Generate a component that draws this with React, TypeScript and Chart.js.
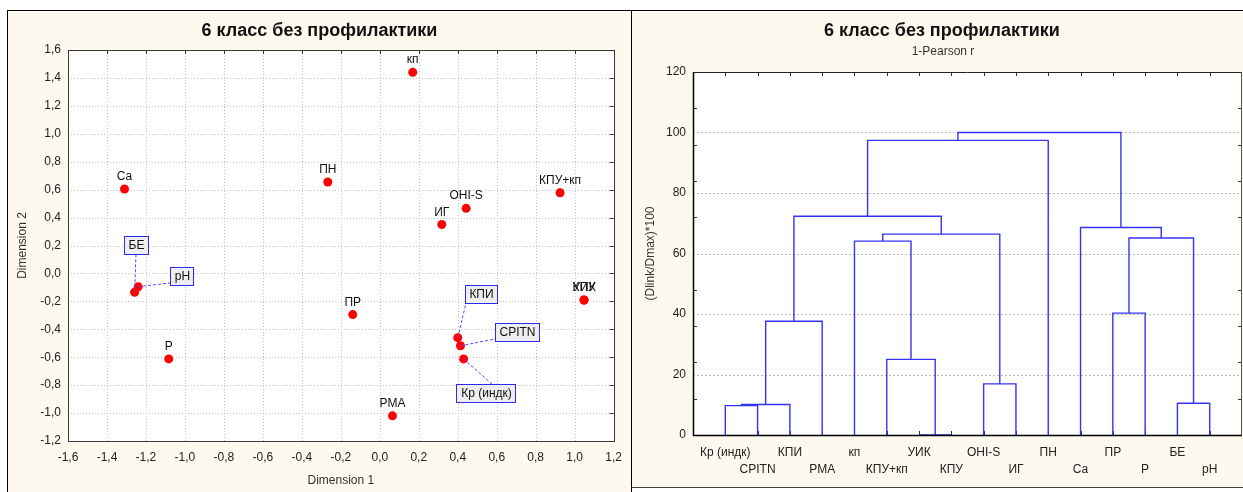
import React, { useEffect, useRef } from 'react';
import { Chart, registerables } from 'chart.js';

Chart.register(...registerables);

const FONT = '"Liberation Sans", Arial, sans-serif';
const CREAM = '#fdf9ee';

// ---------- Left chart: MDS scatter ----------
const chartTitle = '6 класс без профилактики';
const pointLabels = ['кп', 'Ca', 'ПН', 'OHI-S', 'ИГ', 'КПУ+кп', 'УИК', 'КПУ', 'БЕ', 'pH', 'P', 'ПР', 'PMA', 'КПИ', 'CPITN', 'Кр (индк)'];
const dim1 = [0.169, -1.31, -0.267, 0.443, 0.318, 0.925, 1.048, 1.048, -1.258, -1.24, -1.083, -0.139, 0.065, 0.4, 0.414, 0.43];
const dim2 = [1.44, 0.605, 0.655, 0.466, 0.35, 0.578, -0.19, -0.19, -0.135, -0.095, -0.612, -0.295, -1.02, -0.46, -0.518, -0.612];
const dim1Ticks = [-1.6, -1.4, -1.2, -1.0, -0.8, -0.6, -0.4, -0.2, 0, 0.2, 0.4, 0.6, 0.8, 1.0, 1.2];
const dim2Ticks = [-1.2, -1.0, -0.8, -0.6, -0.4, -0.2, 0, 0.2, 0.4, 0.6, 0.8, 1.0, 1.2, 1.4, 1.6];

// callout (boxed) labels: pixel offset of box centre from its point, and where the leader meets the box
const callouts: Record<string, { dx: number; dy: number; anchor: string }> = {
  'БЕ': { dx: 1, dy: -47, anchor: 'bottom' },
  'pH': { dx: 44, dy: -11, anchor: 'leftBottom' },
  'КПИ': { dx: 23, dy: -44, anchor: 'bottomLeft' },
  'CPITN': { dx: 57, dy: -14, anchor: 'leftBottom' },
  'Кр (индк)': { dx: 22, dy: 34, anchor: 'top' },
};

// ---------- Right chart: dendrogram ----------
const dendroSubtitle = '1-Pearson r';
const leafLabels = ['Кр (индк)', 'CPITN', 'КПИ', 'PMA', 'кп', 'КПУ+кп', 'УИК', 'КПУ', 'OHI-S', 'ИГ', 'ПН', 'Ca', 'ПР', 'P', 'БЕ', 'pH'];
// node ids: leaves 0..15, merges 16..
const mergeLeft = [0, 6, 14, 16, 8, 5, 19, 12, 4, 24, 23, 22, 11, 27, 29];
const mergeRight = [1, 7, 15, 2, 9, 17, 3, 13, 21, 20, 18, 25, 26, 10, 28];
const mergeHeight = [9.7, 0, 10.5, 10.1, 16.9, 25.0, 37.6, 40.3, 64.1, 66.4, 65.1, 72.3, 68.6, 97.4, 100];
const heightTicks = [0, 20, 40, 60, 80, 100, 120];
const heightMinorTicks = [12, 24, 36, 48, 72, 84, 96, 108];

const fmt = (v: number) => {
  const r = Math.round(v * 10) / 10;
  return (Math.abs(r) < 1e-9 ? 0 : r).toFixed(1).replace('.', ',');
};

const scatterDecor = {
  id: 'scatterDecor',
  beforeDraw(chart: any) {
    const { ctx, chartArea: a, scales } = chart;
    ctx.save();
    ctx.fillStyle = '#ffffff';
    ctx.fillRect(a.left, a.top, a.right - a.left, a.bottom - a.top);
    ctx.strokeStyle = '#c2c2c2';
    ctx.lineWidth = 1;
    ctx.setLineDash([1, 2]);
    dim1Ticks.forEach((v) => {
      const px = Math.round(scales.x.getPixelForValue(v)) + 0.5;
      ctx.beginPath(); ctx.moveTo(px, a.top); ctx.lineTo(px, a.bottom); ctx.stroke();
    });
    dim2Ticks.forEach((v) => {
      const py = Math.round(scales.y.getPixelForValue(v)) + 0.5;
      ctx.beginPath(); ctx.moveTo(a.left, py); ctx.lineTo(a.right, py); ctx.stroke();
    });
    ctx.setLineDash([]);
    // border
    ctx.strokeStyle = '#3a3a3a';
    ctx.strokeRect(Math.round(a.left) + 0.5, Math.round(a.top) + 0.5, Math.round(a.right - a.left), Math.round(a.bottom - a.top));
    // inward ticks on top and right
    ctx.strokeStyle = '#333';
    dim1Ticks.forEach((v) => {
      const px = Math.round(scales.x.getPixelForValue(v)) + 0.5;
      ctx.beginPath(); ctx.moveTo(px, a.top); ctx.lineTo(px, a.top + 4); ctx.stroke();
    });
    dim2Ticks.forEach((v) => {
      const py = Math.round(scales.y.getPixelForValue(v)) + 0.5;
      ctx.beginPath(); ctx.moveTo(a.right, py); ctx.lineTo(a.right - 4, py); ctx.stroke();
    });
    // title
    ctx.fillStyle = '#111';
    ctx.font = `bold 18px ${FONT}`;
    ctx.textAlign = 'center';
    ctx.textBaseline = 'middle';
    ctx.fillText(chartTitle, chart.width / 2, 20);
    ctx.restore();
  },
  afterDatasetsDraw(chart: any) {
    const { ctx, scales } = chart;
    ctx.save();
    ctx.font = `12px ${FONT}`;
    ctx.textAlign = 'center';
    pointLabels.forEach((lab, i) => {
      const px = scales.x.getPixelForValue(dim1[i]);
      const py = scales.y.getPixelForValue(dim2[i]);
      const c = callouts[lab];
      if (!c) {
        ctx.fillStyle = '#111';
        ctx.textBaseline = 'alphabetic';
        ctx.fillText(lab, px, py - 9);
        return;
      }
      const w = Math.round(ctx.measureText(lab).width + 8);
      const h = 18;
      const cx = Math.round(px + c.dx);
      const cy = Math.round(py + c.dy);
      const bl = cx - Math.round(w / 2);
      const bt = cy - h / 2;
      let ax = cx, ay = bt + h;
      if (c.anchor === 'top') { ax = cx + 6; ay = bt; }
      if (c.anchor === 'leftBottom') { ax = bl; ay = bt + h - 2; }
      if (c.anchor === 'bottomLeft') { ax = bl + 1; ay = bt + h; }
      ctx.strokeStyle = '#4a4aff';
      ctx.lineWidth = 1;
      ctx.setLineDash([3, 2]);
      ctx.beginPath(); ctx.moveTo(px, py); ctx.lineTo(ax, ay); ctx.stroke();
      ctx.setLineDash([]);
      ctx.fillStyle = '#eeeeee';
      ctx.fillRect(bl + 0.5, bt + 0.5, w, h);
      ctx.strokeStyle = '#2a2af0';
      ctx.strokeRect(bl + 0.5, bt + 0.5, w, h);
      ctx.fillStyle = '#111';
      ctx.textBaseline = 'middle';
      ctx.fillText(lab, cx + 0.5, cy + 1);
    });
    ctx.restore();
  },
};

function ScatterChart() {
  const ref = useRef<HTMLCanvasElement>(null);
  useEffect(() => {
    const chart = new Chart(ref.current as HTMLCanvasElement, {
      type: 'scatter',
      data: {
        datasets: [
          {
            data: dim1.map((x, i) => ({ x, y: dim2[i] })),
            pointRadius: 4.5,
            pointHoverRadius: 4.5,
            backgroundColor: '#ff0000',
            borderColor: '#ff0000',
            borderWidth: 0,
          },
        ],
      },
      options: {
        animation: false,
        responsive: false,
        events: [],
        layout: { padding: { top: 39, right: 15, left: 0, bottom: 0 } },
        plugins: { legend: { display: false }, tooltip: { enabled: false } },
        scales: {
          x: {
            type: 'linear',
            min: -1.6,
            max: 1.2,
            afterBuildTicks: (s: any) => { s.ticks = dim1Ticks.map((v) => ({ value: v })); },
            afterFit: (s: any) => { s.height = 51; },
            grid: { display: false, drawTicks: false },
            border: { display: false },
            ticks: { padding: 9, color: '#222', font: { family: FONT, size: 12 }, autoSkip: false, maxRotation: 0, callback: (v: any) => fmt(Number(v)) },
            title: { display: true, text: 'Dimension 1', color: '#333', font: { family: FONT, size: 12 }, padding: { top: 0, bottom: 4 } },
          },
          y: {
            type: 'linear',
            min: -1.2,
            max: 1.6,
            afterBuildTicks: (s: any) => { s.ticks = dim2Ticks.map((v) => ({ value: v })); },
            afterFit: (s: any) => { s.width = 60; },
            grid: { display: false, drawTicks: false },
            border: { display: false },
            ticks: { padding: 7, color: '#222', font: { family: FONT, size: 12 }, autoSkip: false, callback: (v: any) => fmt(Number(v)) },
            title: { display: true, text: 'Dimension 2', color: '#333', font: { family: FONT, size: 12 }, padding: { top: 7, bottom: 0 } },
          },
        },
      } as any,
      plugins: [scatterDecor],
    });
    return () => chart.destroy();
  }, []);
  return <canvas ref={ref} width={623} height={481} style={{ position: 'absolute', left: 0, top: 0, width: 623, height: 481 }} />;
}

// dendrogram geometry derived from merge data
const nLeaves = leafLabels.length;
const nodeX: number[] = leafLabels.map((_, i) => i + 1);
const nodeH: number[] = leafLabels.map(() => 0);
const links = mergeLeft.map((l, k) => {
  const r = mergeRight[k];
  const h = mergeHeight[k];
  nodeX[nLeaves + k] = (nodeX[l] + nodeX[r]) / 2;
  nodeH[nLeaves + k] = h;
  return [
    { x: nodeX[l], y: nodeH[l] },
    { x: nodeX[l], y: h },
    { x: nodeX[r], y: h },
    { x: nodeX[r], y: nodeH[r] },
  ];
});

const dendroDecor = {
  id: 'dendroDecor',
  beforeDraw(chart: any) {
    const { ctx, chartArea: a, scales } = chart;
    ctx.save();
    ctx.fillStyle = '#ffffff';
    ctx.fillRect(a.left, a.top, a.right - a.left, a.bottom - a.top);
    ctx.strokeStyle = '#b8b8b8';
    ctx.lineWidth = 1;
    ctx.setLineDash([2, 2]);
    heightTicks.slice(1, -1).forEach((v) => {
      const py = Math.round(scales.y.getPixelForValue(v)) + 0.5;
      ctx.beginPath(); ctx.moveTo(a.left, py); ctx.lineTo(a.right, py); ctx.stroke();
    });
    ctx.setLineDash([]);
    // ticks
    ctx.strokeStyle = '#333';
    leafLabels.forEach((_, i) => {
      const px = Math.round(scales.x.getPixelForValue(i + 1)) + 0.5;
      ctx.beginPath(); ctx.moveTo(px, a.top); ctx.lineTo(px, a.top + 4); ctx.stroke();
      ctx.beginPath(); ctx.moveTo(px, a.bottom); ctx.lineTo(px, a.bottom - 4); ctx.stroke();
    });
    heightMinorTicks.forEach((v) => {
      const py = Math.round(scales.y.getPixelForValue(v)) + 0.5;
      ctx.beginPath(); ctx.moveTo(a.left, py); ctx.lineTo(a.left + 4, py); ctx.stroke();
      ctx.beginPath(); ctx.moveTo(a.right, py); ctx.lineTo(a.right - 4, py); ctx.stroke();
    });
    // title
    ctx.fillStyle = '#111';
    ctx.font = `bold 18px ${FONT}`;
    ctx.textAlign = 'center';
    ctx.textBaseline = 'middle';
    ctx.fillText(chartTitle, 310, 20);
    ctx.font = `12px ${FONT}`;
    ctx.fillStyle = '#333';
    ctx.fillText(dendroSubtitle, 311, 41);
    ctx.restore();
  },
  afterDatasetsDraw(chart: any) {
    const { ctx, chartArea: a } = chart;
    ctx.save();
    const L = Math.round(a.left), T = Math.round(a.top), R = Math.round(a.right), B = Math.round(a.bottom);
    ctx.strokeStyle = '#222';
    ctx.lineWidth = 1;
    ctx.beginPath(); ctx.moveTo(L, T + 0.5); ctx.lineTo(R, T + 0.5); ctx.stroke();
    ctx.strokeStyle = '#555';
    ctx.beginPath(); ctx.moveTo(R - 0.5, T); ctx.lineTo(R - 0.5, B); ctx.stroke();
    ctx.strokeStyle = '#000';
    ctx.lineWidth = 1.5;
    ctx.beginPath(); ctx.moveTo(L + 0.5, T); ctx.lineTo(L + 0.5, B + 0.5); ctx.lineTo(R, B + 0.5); ctx.stroke();
    ctx.restore();
  },
};

function Dendrogram() {
  const ref = useRef<HTMLCanvasElement>(null);
  useEffect(() => {
    const chart = new Chart(ref.current as HTMLCanvasElement, {
      type: 'scatter',
      data: {
        datasets: links.map((d) => ({
          data: d,
          showLine: true,
          pointRadius: 0,
          pointHoverRadius: 0,
          borderColor: '#3434f6',
          borderWidth: 1.4,
          tension: 0,
          fill: false,
        })),
      },
      options: {
        animation: false,
        responsive: false,
        events: [],
        layout: { padding: { top: 61, right: 1, left: 0, bottom: 0 } },
        plugins: { legend: { display: false }, tooltip: { enabled: false } },
        scales: {
          x: {
            type: 'linear',
            min: 0,
            max: nLeaves + 1,
            afterBuildTicks: (s: any) => { s.ticks = leafLabels.map((_, i) => ({ value: i + 1 })); },
            afterFit: (s: any) => { s.height = 52; },
            grid: { display: false, drawTicks: false },
            border: { display: false },
            ticks: {
              padding: 9,
              color: '#222',
              font: { family: FONT, size: 12, lineHeight: 1.42 },
              autoSkip: false,
              maxRotation: 0,
              minRotation: 0,
              callback: (_v: any, i: number) => (i % 2 === 0 ? leafLabels[i] : ['', leafLabels[i]]),
            },
          },
          y: {
            type: 'linear',
            min: 0,
            max: 120,
            afterBuildTicks: (s: any) => { s.ticks = heightTicks.map((v) => ({ value: v })); },
            afterFit: (s: any) => { s.width = 61; },
            grid: { display: false, drawTicks: false },
            border: { display: false },
            ticks: { padding: 7, color: '#222', font: { family: FONT, size: 12 }, autoSkip: false },
            title: { display: true, text: '(Dlink/Dmax)*100', color: '#333', font: { family: FONT, size: 12 }, padding: { top: 11, bottom: 0 } },
          },
        },
      } as any,
      plugins: [dendroDecor],
    });
    return () => chart.destroy();
  }, []);
  return <canvas ref={ref} width={611} height={476} style={{ position: 'absolute', left: 0, top: 0, width: 611, height: 476 }} />;
}

export default function App() {
  return (
    <div style={{ position: 'fixed', left: 0, top: 0, width: 1243, height: 492, background: '#ffffff', overflow: 'hidden' }}>
      <div style={{ position: 'absolute', left: 7, top: 10, width: 623, height: 500, border: '1px solid #000', background: CREAM }}>
        <ScatterChart />
      </div>
      <div style={{ position: 'absolute', left: 631, top: 10, width: 700, height: 476, border: '1px solid #000', borderBottom: '1px solid #444', background: CREAM }}>
        <Dendrogram />
      </div>
    </div>
  );
}
